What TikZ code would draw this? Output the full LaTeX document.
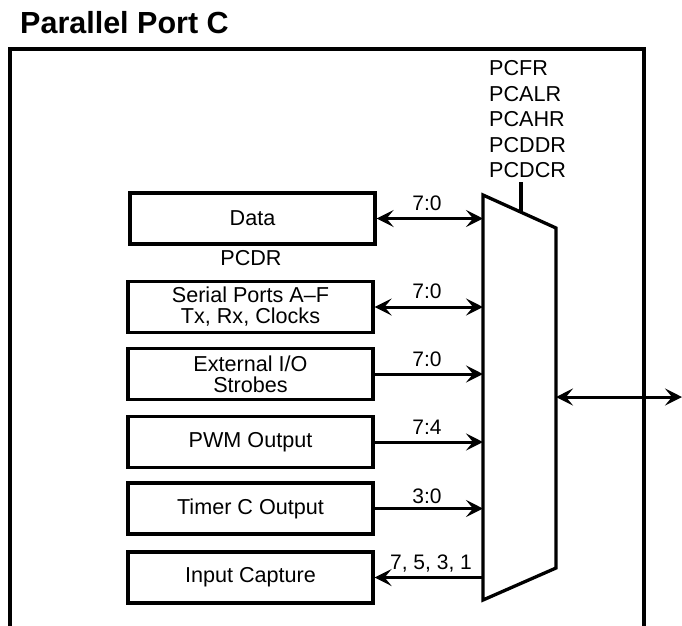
\documentclass[tikz,border=0pt]{standalone}
\usepackage{fontspec}
\setmainfont{Liberation Sans}
\usetikzlibrary{arrows.meta}
\begin{document}
\begin{tikzpicture}[x=1pt,y=-1pt,
  blk/.style={draw, line width=3.2pt, minimum width=245pt, minimum height=51pt, inner sep=0pt, align=center, font=\fontsize{21.6}{21}\selectfont},
  lbl/.style={anchor=base, inner sep=0pt, font=\fontsize{21}{21}\selectfont},
  reg/.style={anchor=base west, inner sep=0pt, font=\fontsize{21.6}{21}\selectfont},
  con/.style={line width=3pt},
  muxline/.style={line width=3.3pt, line join=miter},
  >={Stealth[length=17pt,width=17pt,inset=7pt]}
]
\useasboundingbox (0,0) rectangle (682,625);
% title
\node[anchor=base west, inner sep=0pt, font=\bfseries\fontsize{30.5}{36}\selectfont] (title) at (20,33) {Parallel Port C};
% outer frame
\coordinate (fBL) at (10,627);
\coordinate (fTL) at (10,49);
\coordinate (fTR) at (644,49);
\coordinate (fBR) at (644,627);
\draw[line width=3.4pt, line join=miter] (fBL) -- (fTL) -- (fTR) -- (fBR);
% registers
\node[reg] (pcfr)  at (489,75)  {PCFR};
\node[reg] (pcalr) at (489,101) {PCALR};
\node[reg] (pcahr) at (489,126) {PCAHR};
\node[reg] (pcddr) at (489,152) {PCDDR};
\node[reg] (pcdcr) at (489,177) {PCDCR};
% mux
\coordinate (mTL) at (483,195);
\coordinate (mTR) at (556,228);
\coordinate (mBR) at (556,568);
\coordinate (mBL) at (483,600);
\draw[muxline] (mTL) -- (mTR) -- (mBR) -- (mBL) -- cycle;
\coordinate (tickTop) at (521,182);
\coordinate (tickBot) at (521,212.5);
\draw[line width=3.3pt] (tickTop) -- (tickBot);
% blocks
\node[blk] (data)   at (252.5,218.5) {Data};
\node[anchor=base, inner sep=0pt, font=\fontsize{21.6}{21}\selectfont] (pcdr) at (251,265) {PCDR};
\node[blk] (serial) at (250.5,307)   {Serial Ports A–F\\Tx, Rx, Clocks};
\node[blk] (extio)  at (250.5,374)   {External I/O\\Strobes};
\node[blk] (pwm)    at (250.5,442)   {PWM Output};
\node[blk] (timer)  at (250.5,508.5) {Timer C Output};
\node[blk] (icap)   at (250.5,577.5) {Input Capture};
% connectors
\draw[con,<->] (data.east)   -- (data.east -| mTL);
\draw[con,<->] (serial.east) -- (serial.east -| mTL);
\draw[con,->]  (extio.east)  -- (extio.east -| mTL);
\draw[con,->]  (pwm.east)    -- (pwm.east -| mTL);
\draw[con,->]  (timer.east)  -- (timer.east -| mTL);
\draw[con,->]  (icap.east -| mTL) -- (icap.east);
\coordinate (ext) at (682,397);
\draw[con,<->] (ext -| mTR) -- (ext);
% labels
\node[lbl] (l1) at (427,210) {7:0};
\node[lbl] (l2) at (427,298) {7:0};
\node[lbl] (l3) at (427,366) {7:0};
\node[lbl] (l4) at (427,434) {7:4};
\node[lbl] (l5) at (427,503) {3:0};
\node[lbl] (l6) at (431,569) {7, 5, 3, 1};
\end{tikzpicture}
\end{document}
